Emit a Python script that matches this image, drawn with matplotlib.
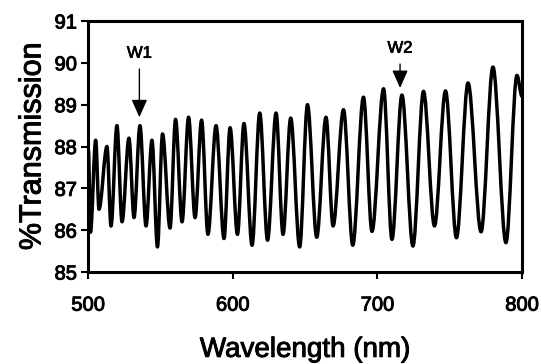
import matplotlib
matplotlib.use("Agg")
import matplotlib.pyplot as plt
from matplotlib.path import Path
from matplotlib.patches import PathPatch
import matplotlib.patheffects as pe

# Extrema of the transmission curve
wavelength = [500.3, 501.7, 505.3, 507.6, 513.1, 515.9, 520.0, 523.5, 528.3, 531.8,
              535.9, 540.1, 544.2, 548.0, 551.5, 556.7, 560.5, 565.0, 569.5, 574.0,
              578.5, 582.9, 588.5, 594.0, 598.2, 603.3, 607.8, 613.4, 618.7, 624.1,
              630.0, 634.8, 640.1, 646.3, 651.7, 658.1, 664.5, 669.4, 676.6, 683.0,
              690.4, 696.3, 704.3, 710.1, 717.0, 724.6, 731.9, 739.5, 747.1, 754.7,
              762.7, 771.7, 779.9, 788.9, 796.5, 800.0]
transmission = [87.9, 85.95, 88.15, 86.5, 88.0, 86.1, 88.5, 86.2, 88.2, 86.3,
                88.5, 86.1, 88.15, 85.6, 88.3, 86.05, 88.65, 86.2, 88.7, 86.3,
                88.63, 85.9, 88.5, 85.8, 88.45, 85.9, 88.55, 85.64, 88.8, 85.76,
                88.8, 85.9, 88.68, 85.6, 89.0, 85.83, 88.7, 86.1, 88.88, 85.64,
                89.18, 85.97, 89.38, 85.78, 89.23, 85.62, 89.32, 86.1, 89.33, 85.82,
                89.52, 85.96, 89.9, 85.7, 89.7, 89.2]

x_ticks = [500, 600, 700, 800]
y_ticks = [85, 86, 87, 88, 89, 90, 91]

markers = ["W1", "W2"]
marker_wl = [535.5, 715.7]
marker_tip = [88.70, 89.40]
marker_text_y = [90.23, 90.35]

plt.rcParams['font.family'] = ['Liberation Sans', 'DejaVu Sans']

heavy = [pe.withStroke(linewidth=0.7, foreground='black')]

fig = plt.figure(figsize=(5.41, 3.64), dpi=100)
ax = fig.add_axes([0.1627, 0.2527, 0.8022, 0.6896])

# smooth curve through the extrema: cubic Bezier with flat tangents at each extremum
verts = [(wavelength[0], transmission[0])]
codes = [Path.MOVETO]
for i in range(1, len(wavelength)):
    x0, y0 = wavelength[i - 1], transmission[i - 1]
    x1, y1 = wavelength[i], transmission[i]
    d = (x1 - x0) * 0.34
    verts += [(x0 + d, y0), (x1 - d, y1), (x1, y1)]
    codes += [Path.CURVE4, Path.CURVE4, Path.CURVE4]
curve = PathPatch(Path(verts, codes), facecolor='none', edgecolor='black',
                  lw=2.5, joinstyle='round', capstyle='round')
ax.add_patch(curve)

ax.set_xlim(500, 800)
ax.set_ylim(85, 91)
ax.set_xticks(x_ticks)
ax.set_yticks(y_ticks)
ax.set_xticklabels([str(t) for t in x_ticks], fontsize=14.5)
ax.set_yticklabels([str(t) for t in y_ticks], fontsize=14.5)
for lbl in ax.get_xticklabels() + ax.get_yticklabels():
    lbl.set_path_effects(heavy)
ax.tick_params(axis='both', direction='out', length=5, width=1.5, color='black')
ax.tick_params(axis='x', pad=12)
ax.tick_params(axis='y', pad=3)
for s in ax.spines.values():
    s.set_linewidth(2.2)
    s.set_color('black')

xl = ax.set_xlabel("Wavelength (nm)", fontsize=20, labelpad=16)
yl = ax.set_ylabel("%Transmission", fontsize=22, labelpad=5)
xl.set_path_effects(heavy)
yl.set_path_effects(heavy)

for name, wl, tip, ty in zip(markers, marker_wl, marker_tip, marker_text_y):
    t = ax.annotate(name, xy=(wl, tip), xytext=(wl, ty), ha='center', va='center',
                    fontsize=12,
                    arrowprops=dict(arrowstyle='-|>,head_length=0.9,head_width=0.4',
                                    color='black', lw=1.0, shrinkA=4, shrinkB=0))
    t.set_path_effects([pe.withStroke(linewidth=0.5, foreground='black')])

fig.savefig("out.png", dpi=100)
